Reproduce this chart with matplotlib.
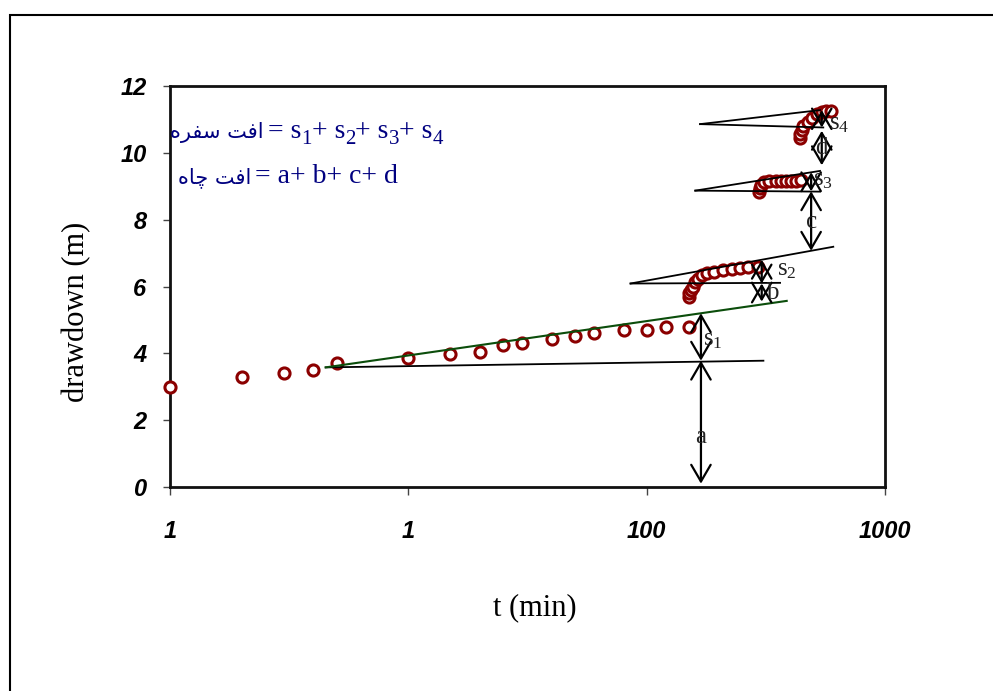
import matplotlib
matplotlib.use("Agg")
import matplotlib.pyplot as plt
from matplotlib.patches import Rectangle
from matplotlib.ticker import NullLocator

plt.rcParams["mathtext.fontset"] = "custom"
plt.rcParams["mathtext.rm"] = "Liberation Serif"
plt.rcParams["mathtext.it"] = "Liberation Serif:italic"

# observed drawdown, one list per pumping step
t_step1 = [1, 2, 3, 4, 5, 10, 15, 20, 25, 30, 40, 50, 60, 80, 100, 120, 150]
s_step1 = [3.0, 3.3, 3.4, 3.5, 3.7, 3.87, 3.97, 4.05, 4.25, 4.32, 4.42, 4.52, 4.6,
           4.7, 4.7, 4.8, 4.8]
t_step2 = [150, 151, 153, 156, 160, 165, 171, 180, 192, 209, 228, 247, 267, 294]
s_step2 = [5.7, 5.8, 5.9, 6.0, 6.14, 6.24, 6.34, 6.39, 6.44, 6.49, 6.51, 6.54, 6.57, 6.57]
t_step3 = [295, 298, 303, 311, 326, 350, 368, 386, 405, 425, 446]
s_step3 = [8.84, 8.94, 9.04, 9.12, 9.17, 9.17, 9.17, 9.17, 9.17, 9.17, 9.19]
t_step4 = [440, 442, 450, 455, 475, 495, 518, 542, 567, 595]
s_step4 = [10.43, 10.55, 10.68, 10.8, 10.93, 11.05, 11.15, 11.23, 11.26, 11.26]

# straight-line fits drawn by hand: (t0, s0, t1, s1)
black_lines = [
    (4.5, 3.58, 309, 3.78),
    (85.6, 6.09, 363, 6.11),
    (85.6, 6.09, 607, 7.19),
    (160, 8.87, 534, 8.84),
    (160, 8.87, 534, 9.46),
    (167.6, 10.86, 551, 10.76),
    (167.6, 10.86, 534, 11.28),
]
green_line = (4.5, 3.58, 387, 5.57)

# double arrows: t, bottom, top
arrows = [
    (169, 0.1, 3.78),
    (169, 3.78, 5.2),
    (304, 5.55, 6.09),
    (304, 6.09, 6.8),
    (490, 7.07, 8.85),
    (490, 8.85, 9.42),
    (543, 9.63, 10.66),
    (543, 10.76, 11.28),
]
# arrow labels: text, t, s, horizontal alignment
arrow_labels = [
    ("a", 169, 1.5, "center"),
    (r"$\mathrm{s}_1$", 172, 4.4, "left"),
    ("b", 316, 5.8, "left"),
    (r"$\mathrm{s}_2$", 352, 6.5, "left"),
    ("c", 490, 7.94, "center"),
    (r"$\mathrm{s}_3$", 498, 9.2, "left"),
    ("d", 543, 10.15, "center"),
    (r"$\mathrm{s}_4$", 584, 10.85, "left"),
]

x_ticks = [1, 10, 100, 1000]
x_tick_labels = ["1", "1", "100", "1000"]
y_ticks = [0, 2, 4, 6, 8, 10, 12]

# Persian text written in presentation forms, visual order
aquifer_fa = "\uFEE9\uFEAE\uFED4\uFEB3 \uFE96\uFED3\uFE8D"
well_fa = "\uFEE9\uFE8E\uFB7C \uFE96\uFED3\uFE8D"
aquifer_parts = [("= s", "1"), ("+ s", "2"), ("+ s", "3"), ("+ s", "4")]

fig = plt.figure(figsize=(9.93, 6.91), dpi=100)
fig.patches.append(Rectangle((0.0101, -0.05), 1.1, 0.978 + 0.05,
                             transform=fig.transFigure, fill=False,
                             lw=1.5, ec="black"))

ax = fig.add_axes([0.1712, 0.2952, 0.72, 0.5803])
ax.set_xscale("log")
ax.set_xlim(1, 1000)
ax.set_ylim(0, 12)

for t, s in [(t_step1, s_step1), (t_step2, s_step2),
             (t_step3, s_step3), (t_step4, s_step4)]:
    ax.plot(t, s, "o", mfc="white", mec="#8b0000", ms=8, mew=2.2,
            zorder=3, clip_on=False)

for t0, s0, t1, s1 in black_lines:
    ax.plot([t0, t1], [s0, s1], color="black", lw=1.3, zorder=4)
ax.plot([green_line[0], green_line[2]], [green_line[1], green_line[3]],
        color="#0b4d0b", lw=1.5, zorder=4)

for t, y0, y1 in arrows:
    ax.annotate("", xy=(t, y1), xytext=(t, y0),
                arrowprops=dict(arrowstyle="<->,head_length=0.6,head_width=0.35",
                                mutation_scale=20, lw=1.6, color="black",
                                shrinkA=0, shrinkB=0),
                zorder=5)

for txt, t, s, ha in arrow_labels:
    ax.text(t, s, txt, ha=ha, va="center", fontsize=18, color="#222222",
            family="Liberation Serif", zorder=6)

# equations in the upper left
navy = "#000080"
serif = dict(family="Liberation Serif", color=navy)
first = None
prev = None
for main_txt, sub_txt in aquifer_parts:
    if prev is None:
        main = ax.text(0.137, 0.870, main_txt, transform=ax.transAxes,
                       ha="left", va="baseline", fontsize=20, **serif)
        first = main
    else:
        main = ax.annotate(main_txt, xy=(1, 0), xycoords=(prev, first),
                           ha="left", va="bottom", fontsize=20, **serif)
    prev = ax.annotate(sub_txt, xy=(1, 0), xycoords=main, ha="left",
                       va="baseline", fontsize=15, **serif)
ax.annotate(aquifer_fa, xy=(0.137, 0.870), xycoords="axes fraction",
            xytext=(-3, 0), textcoords="offset points", ha="right",
            va="baseline", fontsize=15, color=navy, family="DejaVu Sans")
ax.text(0.119, 0.757, "= a+ b+ c+ d", transform=ax.transAxes, ha="left",
        va="baseline", fontsize=20, **serif)
ax.annotate(well_fa, xy=(0.119, 0.757), xycoords="axes fraction",
            xytext=(-3, 0), textcoords="offset points", ha="right",
            va="baseline", fontsize=15, color=navy, family="DejaVu Sans")

ax.set_xticks(x_ticks)
ax.set_xticklabels(x_tick_labels)
ax.xaxis.set_minor_locator(NullLocator())
ax.set_yticks(y_ticks)
for lab in ax.get_xticklabels() + ax.get_yticklabels():
    lab.set_family("Liberation Sans")
    lab.set_fontweight("bold")
    lab.set_fontstyle("italic")
    lab.set_fontsize(17)
ax.tick_params(axis="x", direction="out", length=5.5, width=1, color="#444444", pad=18)
ax.tick_params(axis="y", direction="out", length=5, width=1, color="#444444", pad=12)

for sp in ax.spines.values():
    sp.set_linewidth(2)
    sp.set_color("#111111")

ax.set_xlabel("t (min)", family="Liberation Serif", fontsize=22, va="top")
ax.xaxis.set_label_coords(0.51, -0.265)
ax.set_ylabel("drawdown (m)", family="Liberation Serif", fontsize=22, va="center")
ax.yaxis.set_label_coords(-0.13, 0.436)

fig.savefig("out.png", dpi=100)
